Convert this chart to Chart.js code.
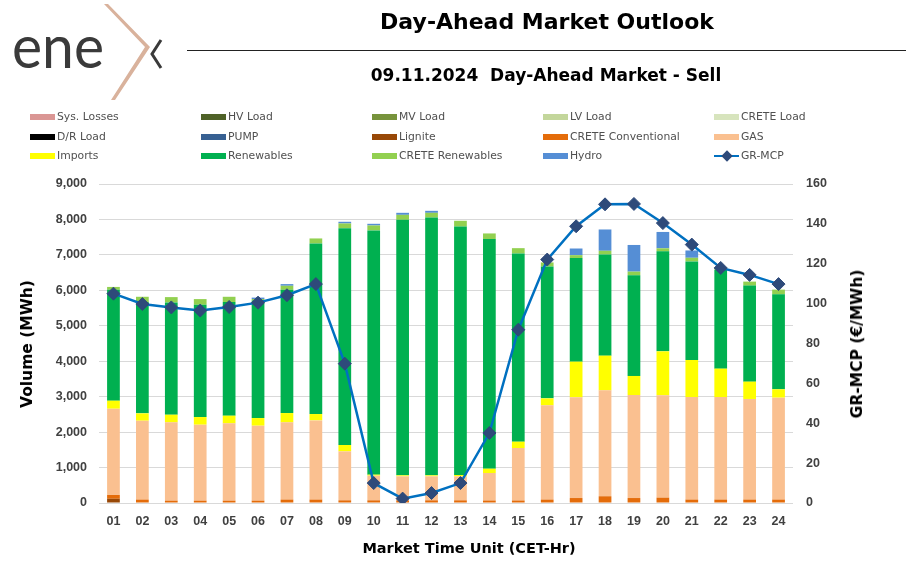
<!DOCTYPE html>
<html>
<head>
<meta charset="utf-8">
<script src="https://cdn.jsdelivr.net/npm/chart.js@4.4.1/dist/chart.umd.min.js"></script>
<style>
  html,body{margin:0;padding:0;background:#fff;}
  #wrap{position:relative;width:906px;height:571px;overflow:hidden;background:#fff;}
  #c{position:absolute;left:0;top:0;}
  .abs{position:absolute;white-space:nowrap;}
  .title{font-family:"DejaVu Sans",sans-serif;font-weight:bold;color:#000;transform:translate(-50%,-50%);}
  .leg{position:absolute;font-family:"DejaVu Sans",sans-serif;font-size:10.8px;color:#505050;white-space:nowrap;}
  .sw{position:absolute;width:25px;height:6px;}
</style>
</head>
<body>
<div id="wrap">
  <canvas id="c" width="906" height="571"></canvas>
  <svg class="abs" style="left:0;top:0" width="190" height="105">
    <text x="12" y="68" font-family="Lato, 'DejaVu Sans', sans-serif" font-weight="400" font-size="60" fill="#3a3a3a" textLength="92" lengthAdjust="spacingAndGlyphs">ene</text>
    <polygon points="104,4 108,4 150,47 115,100 111,100 145,47" fill="#D9B29C"/>
    <polyline points="161,40 152,54 161,68" fill="none" stroke="#3a3a3a" stroke-width="3"/>
  </svg>
  <div class="abs" style="left:187px;top:50px;width:719px;height:0;border-top:1.3px solid #222;"></div>
  <div class="abs title" style="left:547px;top:21px;font-size:22px;">Day-Ahead Market Outlook</div>
  <div class="abs title" style="left:546px;top:75px;font-size:17px;">09.11.2024&nbsp;&nbsp;Day-Ahead Market - Sell</div>
  <div id="legend"></div>
  <div class="abs title" style="left:27px;top:344px;font-size:15.5px;transform:translate(-50%,-50%) rotate(-90deg);">Volume (MWh)</div>
  <div class="abs title" style="left:857px;top:344px;font-size:15.5px;transform:translate(-50%,-50%) rotate(-90deg);">GR-MCP (€/MWh)</div>
  <div class="abs title" style="left:469px;top:548px;font-size:14.5px;">Market Time Unit (CET-Hr)</div>
</div>
<script>
// ---------- data ----------
const HOURS = ['01','02','03','04','05','06','07','08','09','10','11','12','13','14','15','16','17','18','19','20','21','22','23','24'];
const SYS_LOSSES = [0,0,0,0,0,0,0,0,0,0,0,0,0,0,0,0,0,0,0,0,0,0,0,0];
const HV_LOAD    = [0,0,0,0,0,0,0,0,0,0,0,0,0,0,0,0,0,0,0,0,0,0,0,0];
const MV_LOAD    = [0,0,0,0,0,0,0,0,0,0,0,0,0,0,0,0,0,0,0,0,0,0,0,0];
const LV_LOAD    = [0,0,0,0,0,0,0,0,0,0,0,0,0,0,0,0,0,0,0,0,0,0,0,0];
const CRETE_LOAD = [0,0,0,0,0,0,0,0,0,0,0,0,0,0,0,0,0,0,0,0,0,0,0,0];
const DR_LOAD    = [0,0,0,0,0,0,0,0,0,0,0,0,0,0,0,0,0,0,0,0,0,0,0,0];
const PUMP       = [0,0,0,0,0,0,0,0,0,0,0,0,0,0,0,0,0,0,0,0,0,0,0,0];
const LIGNITE    = [120,0,0,0,0,0,0,0,0,0,0,0,0,0,0,0,0,0,0,0,0,0,0,0];
const CRETE_CONV = [110,95,65,65,65,65,95,95,75,75,75,75,75,70,70,95,140,190,140,150,95,95,95,95];
const GAS        = [2430,2227,2210,2144,2182,2116,2180,2236,1382,696,677,677,677,776,1481,2661,2842,2989,2907,2888,2896,2896,2840,2877];
const IMPORTS    = [226,207,216,216,216,216,263,179,179,29,28,28,38,122,179,196,1006,978,537,1241,1044,800,489,236];
const RENEWABLES = [3130,3139,3168,3168,3205,3318,3478,4813,6119,6890,7210,7275,7010,6477,5310,3722,2921,2855,2841,2821,2780,2793,2709,2680];
const CRETE_REN  = [80,150,150,160,150,40,113,141,132,140,140,132,162,160,150,113,84,104,103,86,103,66,113,132];
const HYDRO      = [0,0,0,0,0,40,47,0,47,47,57,56,0,0,0,0,187,601,752,461,207,0,0,0];
const GR_MCP     = [105.0,99.8,98.1,96.5,98.3,100.5,104.2,109.8,69.9,10.0,2.2,5.0,10.0,35.1,86.9,122.1,138.8,149.8,150.0,140.4,129.6,117.9,114.4,109.8];
const Y_TICKS    = [0,1000,2000,3000,4000,5000,6000,7000,8000,9000];
const Y1_TICKS   = [0,20,40,60,80,100,120,140,160];

// ---------- series (legend order) ----------
const SERIES = [
  {label:'Sys. Losses', data:SYS_LOSSES, color:'#DA9694'},
  {label:'HV Load', data:HV_LOAD, color:'#4F6228'},
  {label:'MV Load', data:MV_LOAD, color:'#77933C'},
  {label:'LV Load', data:LV_LOAD, color:'#C3D69B'},
  {label:'CRETE Load', data:CRETE_LOAD, color:'#D7E4BD'},
  {label:'D/R Load', data:DR_LOAD, color:'#000000'},
  {label:'PUMP', data:PUMP, color:'#376092'},
  {label:'Lignite', data:LIGNITE, color:'#984807'},
  {label:'CRETE Conventional', data:CRETE_CONV, color:'#E46C0A'},
  {label:'GAS', data:GAS, color:'#FAC090'},
  {label:'Imports', data:IMPORTS, color:'#FFFF00'},
  {label:'Renewables', data:RENEWABLES, color:'#00B050'},
  {label:'CRETE Renewables', data:CRETE_REN, color:'#92D050'},
  {label:'Hydro', data:HYDRO, color:'#558ED5'},
  {label:'GR-MCP', data:GR_MCP, color:'#0070C0', line:true}
];
// stacking order bottom -> top
const STACK_ORDER = ['Lignite','CRETE Conventional','GAS','Imports','Renewables','CRETE Renewables','Hydro','PUMP','Sys. Losses','HV Load','MV Load','LV Load','CRETE Load','D/R Load'];

const datasets = [];
STACK_ORDER.forEach(name => {
  const s = SERIES.find(x => x.label === name);
  datasets.push({
    type:'bar', label:s.label, data:s.data, backgroundColor:s.color, borderWidth:0,
    stack:'vol', yAxisID:'y', order:1, barPercentage:0.44, categoryPercentage:1.0
  });
});
datasets.push({
  type:'line', label:'GR-MCP', data:GR_MCP, yAxisID:'y1', order:0,
  borderColor:'#0070C0', borderWidth:2.5, tension:0, fill:false,
  pointStyle:'rectRot', pointRadius:6.5, pointHoverRadius:6.5,
  pointBackgroundColor:'#2E4A7A', pointBorderColor:'#2E4A7A', pointBorderWidth:1
});

// ---------- legend (HTML) ----------
const legend = document.getElementById('legend');
const colX = [30, 201, 372, 543, 714];
const rowY = [117, 136.5, 156];
SERIES.forEach((s, i) => {
  const col = i % 5, row = Math.floor(i / 5);
  const x = colX[col], y = rowY[row];
  if (s.line) {
    const ln = document.createElement('div');
    ln.className = 'sw';
    ln.style.cssText = `left:${x}px;top:${y-1.25}px;height:2.5px;background:${s.color};`;
    legend.appendChild(ln);
    const d = document.createElement('div');
    d.className = 'sw';
    d.style.cssText = `left:${x+8.5}px;top:${y-4}px;width:8px;height:8px;background:#2E4A7A;transform:rotate(45deg);`;
    legend.appendChild(d);
  } else {
    const sw = document.createElement('div');
    sw.className = 'sw';
    sw.style.cssText = `left:${x}px;top:${y-3}px;background:${s.color};`;
    legend.appendChild(sw);
  }
  const t = document.createElement('div');
  t.className = 'leg';
  t.textContent = s.label;
  t.style.left = (x + 27) + 'px';
  t.style.top = (y - 7) + 'px';
  legend.appendChild(t);
});

// ---------- chart ----------
const tickFont = {family:'"Liberation Sans", Arial, sans-serif', weight:'bold', size:12.5};
new Chart(document.getElementById('c'), {
  data: {labels: HOURS, datasets},
  options: {
    responsive:false, animation:false, devicePixelRatio:1,
    layout:{padding:{top:184, left:0, right:0, bottom:0}},
    plugins:{legend:{display:false}, tooltip:{enabled:false}, title:{display:false}},
    scales:{
      x:{
        stacked:true,
        grid:{display:false, drawTicks:false},
        border:{display:false},
        ticks:{color:'#404040', font:tickFont, padding:11, maxRotation:0, autoSkip:false},
        afterFit(s){ s.height = 68; }
      },
      y:{
        stacked:true, position:'left', min:0, max:9000,
        afterBuildTicks(s){ s.ticks = Y_TICKS.map(v => ({value:v})); },
        ticks:{color:'#404040', font:tickFont, padding:12, callback:v => v.toLocaleString('en-US')},
        grid:{color:'#D9D9D9', lineWidth:1, drawTicks:false},
        border:{display:false},
        afterFit(s){ s.width = 99; }
      },
      y1:{
        position:'right', min:0, max:160,
        afterBuildTicks(s){ s.ticks = Y1_TICKS.map(v => ({value:v})); },
        ticks:{color:'#404040', font:tickFont, padding:13},
        grid:{display:false, drawTicks:false},
        border:{display:false},
        afterFit(s){ s.width = 113; }
      }
    }
  }
});
</script>
</body>
</html>
